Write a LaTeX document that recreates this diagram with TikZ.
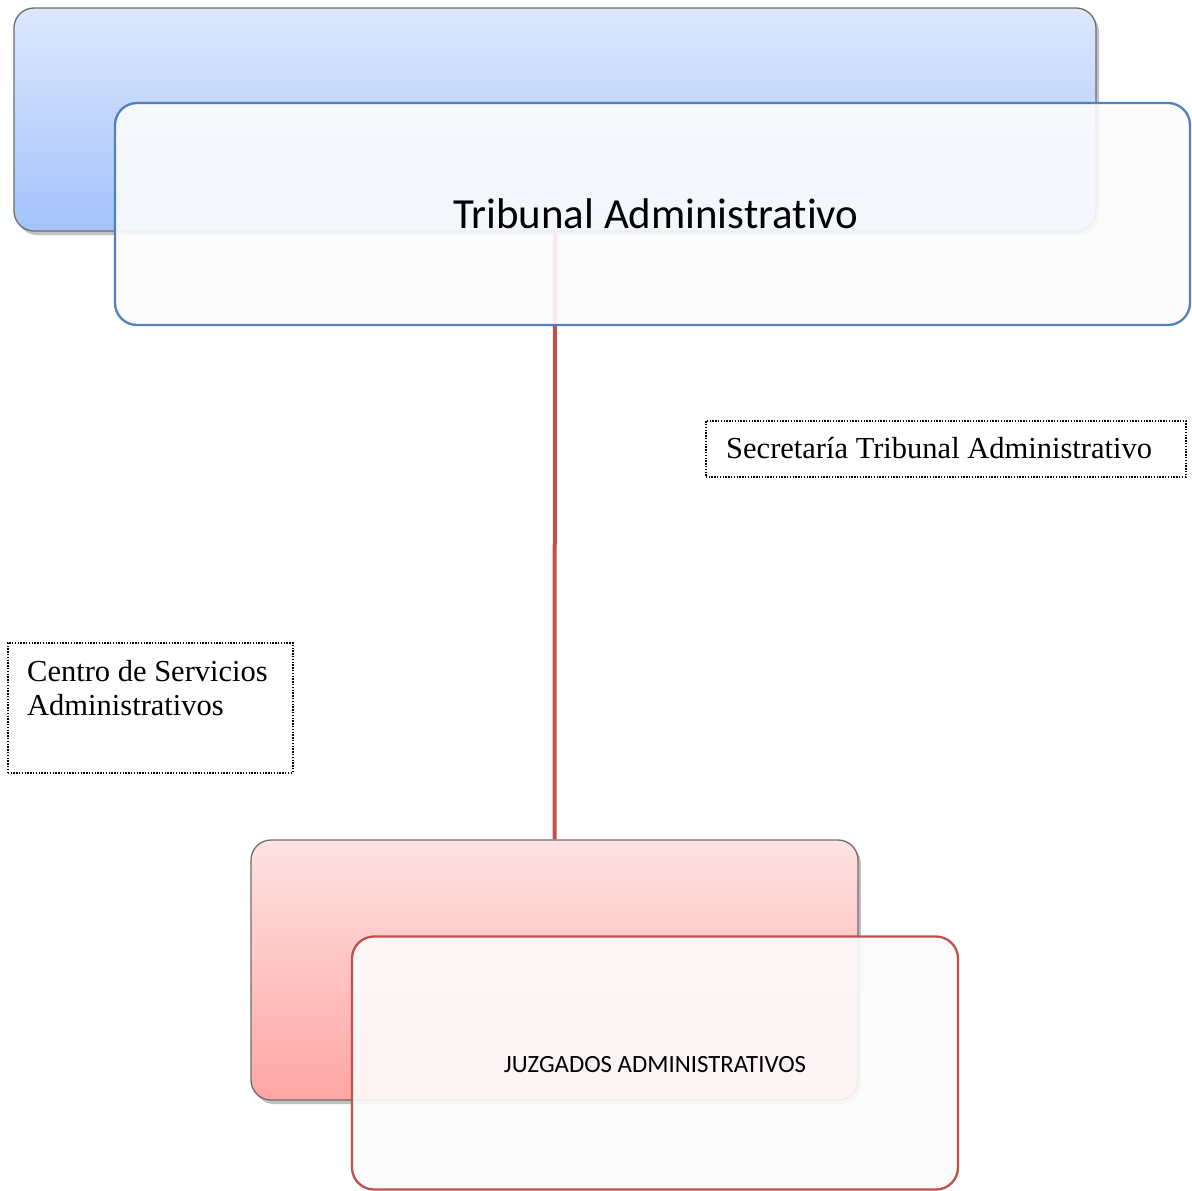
\documentclass[tikz,border=0pt]{standalone}
\usepackage{fontspec}
\setmainfont{Liberation Serif}
\newfontfamily\calib[Ligatures=NoCommon]{Carlito}
\usetikzlibrary{shadows}
\definecolor{blueTop}{HTML}{DDE8FD}
\definecolor{blueBot}{HTML}{A3C2FB}
\definecolor{pinkTop}{HTML}{FFE2E2}
\definecolor{pinkBot}{HTML}{FFA5A5}
\definecolor{edgeGray}{HTML}{6E6E6E}
\definecolor{frontBlue}{HTML}{4F81BD}
\definecolor{frontRed}{HTML}{C0504D}
\definecolor{paleFill}{HTML}{FCFCFC}
\tikzset{
  backbox/.style={draw=edgeGray, line width=1.3pt, rounded corners=20pt, inner sep=0pt,
    drop shadow={shadow xshift=3pt, shadow yshift=-4pt, opacity=0.4, fill=black!60}},
  frontbox/.style={line width=2.3pt, rounded corners=22pt, inner sep=0pt,
    fill=paleFill, fill opacity=0.9, text opacity=1},
  dotbox/.style={draw=black, line width=1.6pt, dash pattern=on 1.4pt off 1.4pt, inner sep=0pt},
  conn/.style={draw=frontRed, line width=4pt},
  serif/.style={font=\fontsize{30.5}{34}\selectfont}
}
\begin{document}
\begin{tikzpicture}[x=1pt,y=-1pt]
\useasboundingbox[fill=white] (0,0) rectangle (1191,1191);
% back boxes
\node[backbox, top color=blueTop, bottom color=blueBot,
      minimum width=1082pt, minimum height=223pt] (tribBack) at (555,119.5) {};
\node[backbox, top color=pinkTop, bottom color=pinkBot,
      minimum width=607pt, minimum height=260pt] (juzBack) at (554.5,970) {};
% connector
\draw[conn] (tribBack.south) -- (juzBack.north);
% front boxes
\node[frontbox, draw=frontBlue, minimum width=1075pt, minimum height=222pt,
      font=\calib\fontsize{42.9}{50}\selectfont] (tribFront) at (652.5,214)
      {\hspace*{7pt}Tribunal Administrativo};
\node[frontbox, draw=frontRed, minimum width=606pt, minimum height=253pt,
      font=\calib\fontsize{24.8}{28}\selectfont] (juzFront) at (655,1063)
      {\smash{\raisebox{-9pt}{JUZGADOS ADMINISTRATIVOS}}};
% dotted text boxes
\node[dotbox, anchor=north west, minimum width=480pt, minimum height=56pt] (secre) at (705,420) {};
\node[serif, anchor=base west, inner sep=0pt] (secreText) at (726,458) {Secretaría Tribunal Administrativo};
\node[dotbox, anchor=north west, minimum width=285pt, minimum height=130pt] (centro) at (7,642) {};
\node[serif, anchor=north west, inner sep=0pt, align=left] (centroText) at (27,660) {Centro de Servicios\\Administrativos};
\end{tikzpicture}
\end{document}
